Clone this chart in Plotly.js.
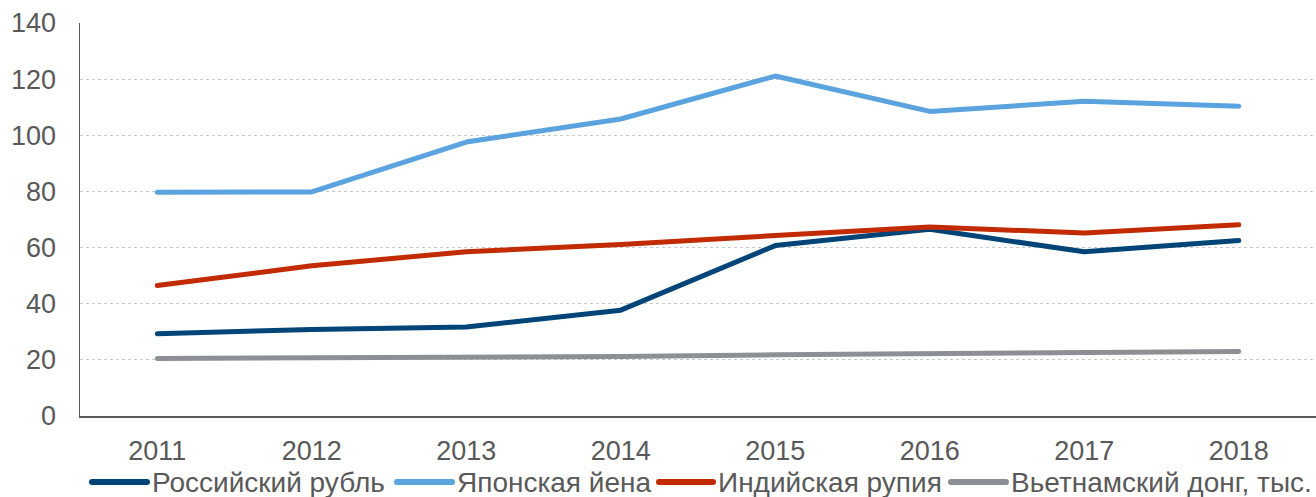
<!DOCTYPE html>
<html>
<head>
<meta charset="utf-8">
<script src="https://cdn.plot.ly/plotly-3.0.1.min.js"></script>
<style>
html,body{margin:0;padding:0;background:#fff;}
#chart{width:1316px;height:497px;}
.js-line{stroke-linecap:round;stroke-linejoin:round;}
.shapelayer path{stroke-linecap:round;}
</style>
</head>
<body>
<div id="chart"></div>
<script>
const years = ['2011','2012','2013','2014','2015','2016','2017','2018'];
const rub = [29.3, 30.8, 31.7, 37.7, 60.7, 66.5, 58.5, 62.5];
const jpy = [79.7, 79.8, 97.6, 105.8, 121.1, 108.5, 112.1, 110.3];
const inr = [46.5, 53.5, 58.5, 61.1, 64.3, 67.3, 65.2, 68.1];
const vnd = [20.5, 20.7, 20.9, 21.2, 21.8, 22.3, 22.6, 23.0];
const names = ['Российский рубль','Японская йена','Индийская рупия','Вьетнамский донг, тыс.'];
const colors = ['#004478','#5aa3df','#c22a00','#8c9094'];
const yTicks = [0,20,40,60,80,100,120,140];

const series = [rub, jpy, inr, vnd];
const traces = series.map((s,i)=>({
  x: years, y: s, name: names[i], type:'scatter', mode:'lines',
  line:{color:colors[i], width:5}, showlegend:false
}));

// legend drawn as paper-anchored shapes + annotations (layout, pixel positions)
const M = {l:80, r:0, t:23, b:81};
const W = 1316, H = 497;
const pw = W - M.l - M.r, ph = H - M.t - M.b;
const px = v => (v - M.l) / pw;
const py = v => (H - M.b - v) / ph;
const legendLineX = [[92,147],[397,452],[659,713],[951,1006]];
const legendY = 482;
const shapes = legendLineX.map((a,i)=>({
  type:'line', xref:'paper', yref:'paper', x0:px(a[0]), x1:px(a[1]), y0:py(legendY), y1:py(legendY),
  line:{color:colors[i], width:6}
}));
const annotations = legendLineX.map((a,i)=>({
  xref:'paper', yref:'paper', x:px(a[1]+3), y:py(legendY), xanchor:'left', yanchor:'middle',
  text:names[i], showarrow:false, font:{size:28, color:'#595959'}
}));

const layout = {
  width:W, height:H,
  margin:M,
  paper_bgcolor:'#fff', plot_bgcolor:'#fff',
  font:{family:'Liberation Sans, Arial, sans-serif', color:'#595959', size:27},
  showlegend:false,
  shapes:shapes, annotations:annotations,
  xaxis:{type:'category', range:[-0.5,7.5], showgrid:false, showline:true, linecolor:'#595959', linewidth:1.5,
    ticks:'', ticklabelstandoff:10, tickfont:{size:27, color:'#595959'}, fixedrange:true},
  yaxis:{range:[0,140], tickvals:yTicks, showgrid:true, gridcolor:'#c8c8c8', griddash:'dot', gridwidth:1,
    showline:true, linecolor:'#595959', linewidth:1.5, zeroline:false,
    ticks:'', ticklabelstandoff:17, tickfont:{size:27, color:'#595959'}, fixedrange:true}
};
Plotly.newPlot('chart', traces, layout, {displayModeBar:false, staticPlot:true});
</script>
</body>
</html>
